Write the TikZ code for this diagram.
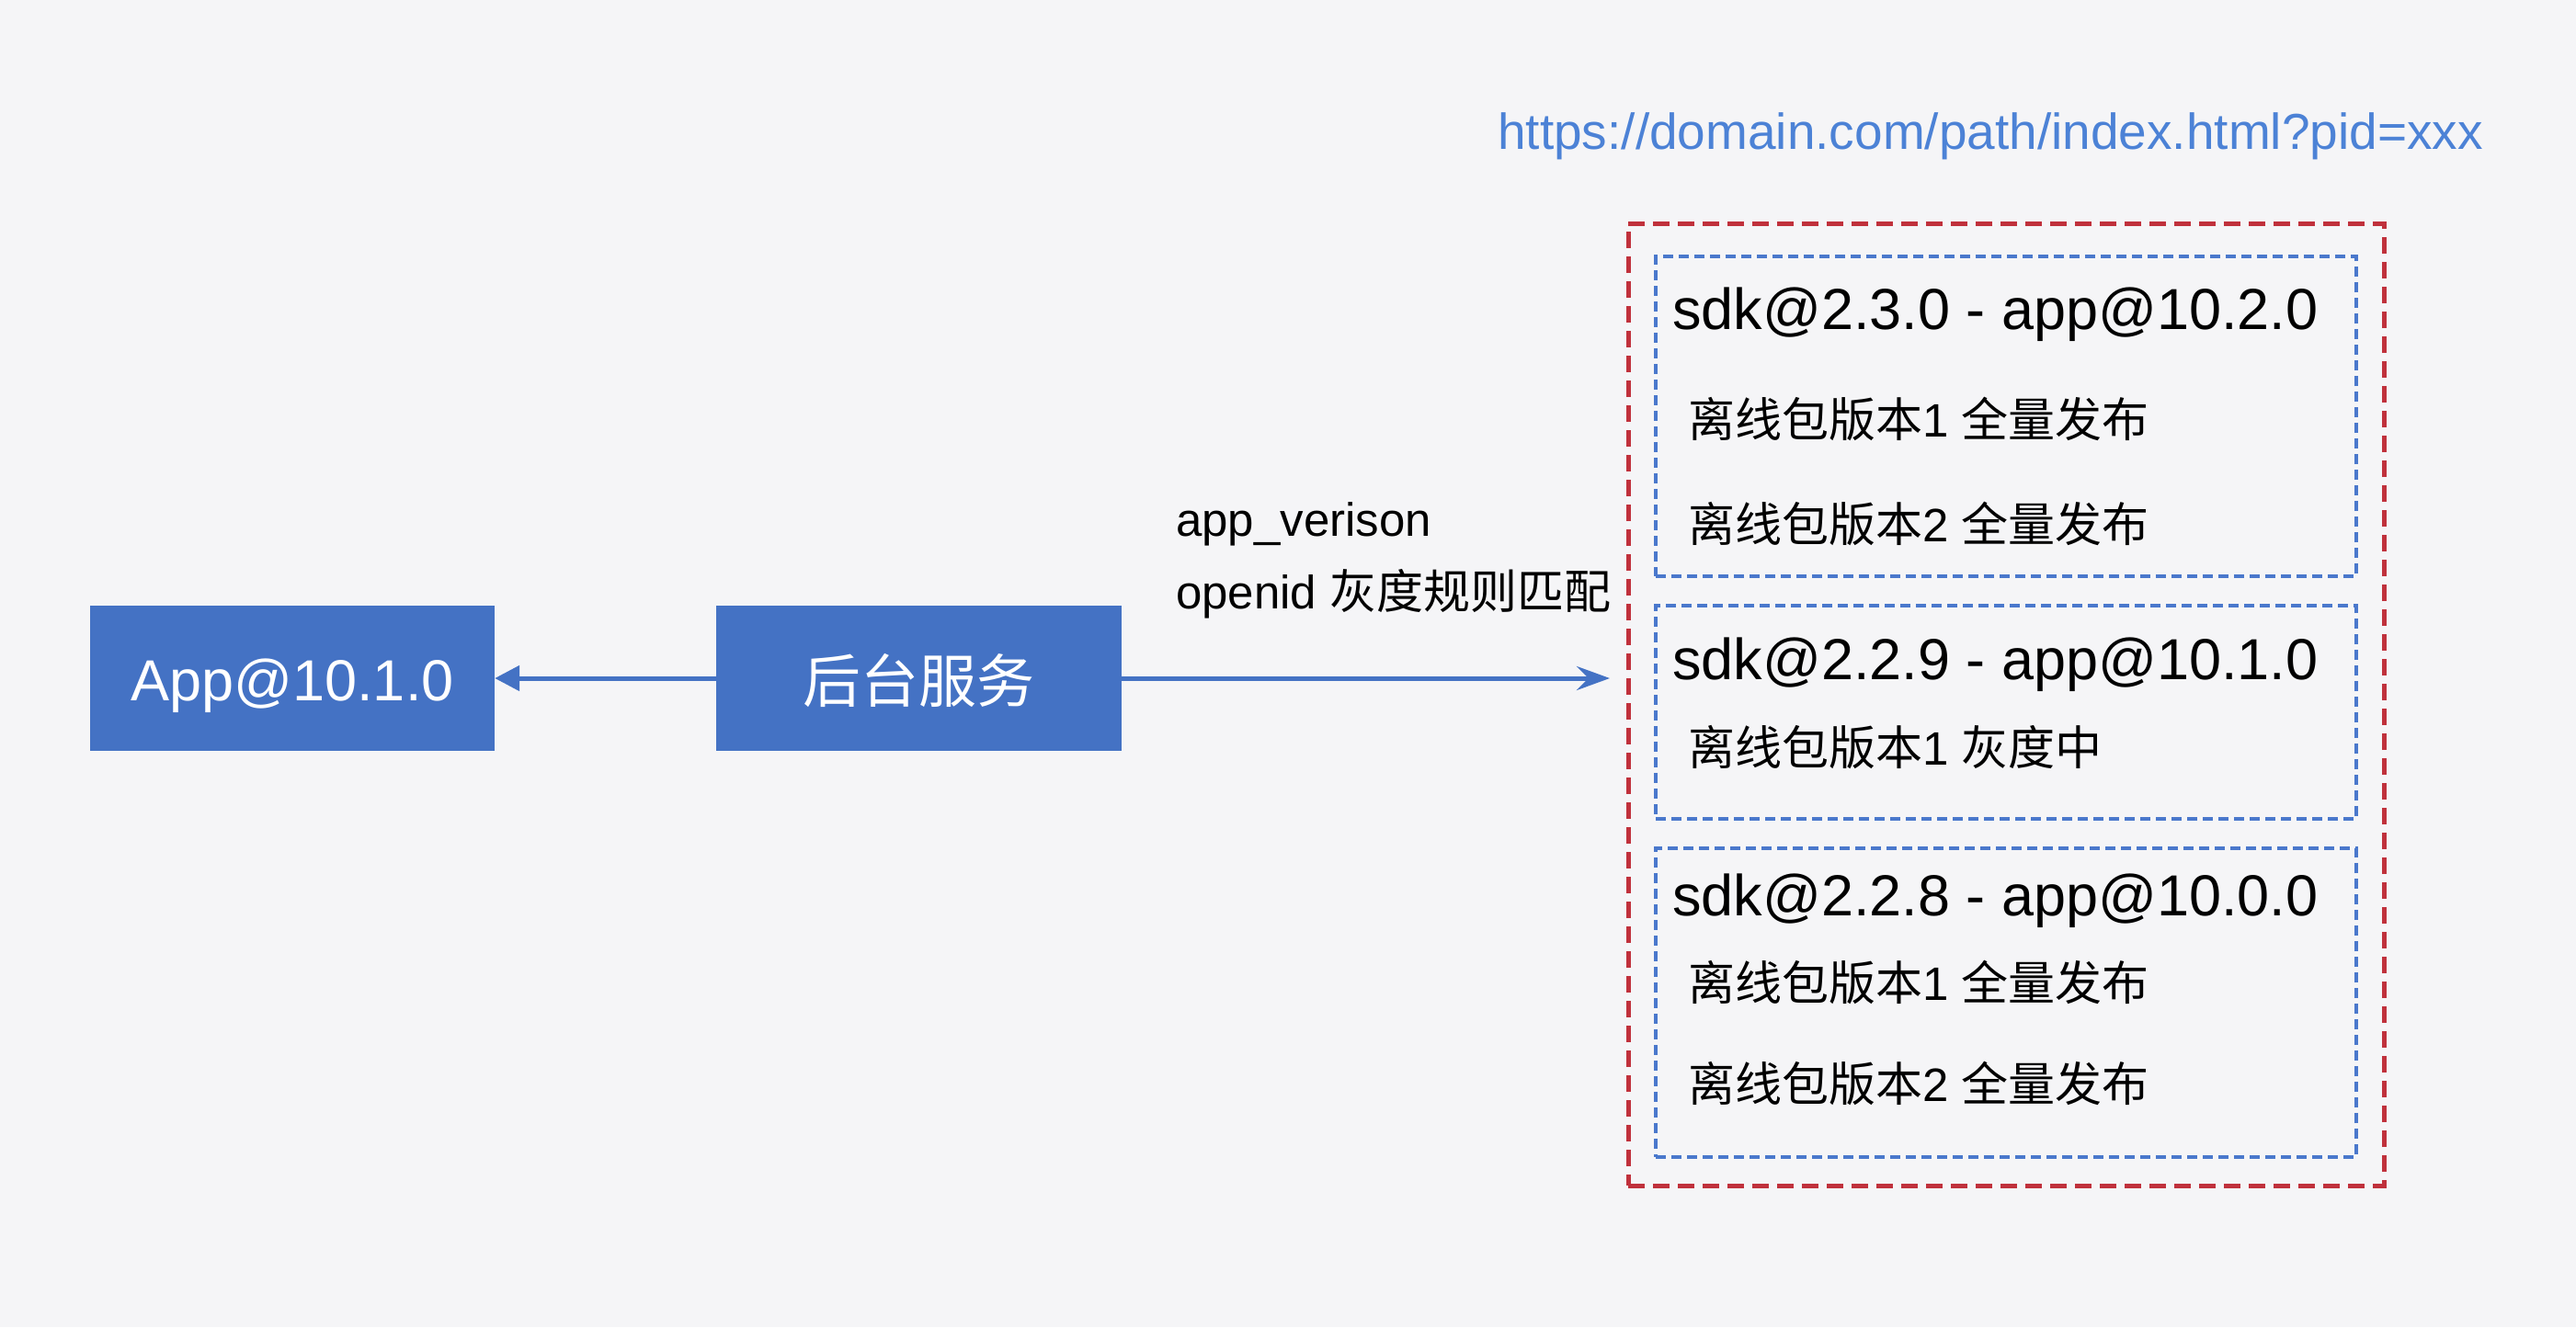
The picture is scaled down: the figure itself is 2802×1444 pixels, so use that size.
\documentclass[tikz,border=0pt]{standalone}
\usepackage{fontspec}
\setmainfont{Liberation Sans}
\newfontfamily\cjk{Noto Sans CJK SC}
\usetikzlibrary{arrows.meta}
\definecolor{bg}{HTML}{F5F5F7}
\definecolor{boxblue}{HTML}{4472C4}
\definecolor{dashred}{HTML}{C0313C}
\definecolor{dashblue}{HTML}{4A78CC}
\definecolor{urlblue}{HTML}{4C82D6}
\begin{document}
\begin{tikzpicture}[x=1pt,y=-1pt,
  solidbox/.style={fill=boxblue, draw=none, minimum height=158, inner sep=0},
  boxtext/.style={text=white, anchor=base, inner sep=0, font=\fontsize{63}{70}\selectfont},
  groupbox/.style={draw=dashred, line width=5, dash pattern=on 18 off 9, inner sep=0},
  verbox/.style={draw=dashblue, line width=3.5, dash pattern=on 11 off 6, inner sep=0, minimum width=762},
  titletext/.style={anchor=base west, inner sep=0, font=\fontsize{63}{70}\selectfont},
  linetext/.style={anchor=base west, inner sep=0, font=\fontsize{51}{60}\selectfont},
  lbl/.style={anchor=base west, inner sep=0, font=\fontsize{51}{60}\selectfont},
  urltext/.style={anchor=base west, inner sep=0, text=urlblue, font=\fontsize{55}{64}\selectfont},
  arrowline/.style={draw=boxblue, line width=5}
]
\fill[bg] (0,0) rectangle (2802,1444);
\useasboundingbox (0,0) rectangle (2802,1444);

% URL
\node[urltext] (url) at (1629,162) {https://domain.com/path/index.html?pid=xxx};

% solid boxes
\node[solidbox, minimum width=440] (app) at (318,738) {};
\node[boxtext] (apptext) at (318,762) {App@10.1.0};
\node[solidbox, minimum width=441] (svc) at (999.5,738) {};
\node[boxtext] (svctext) at (999.5,764) {\cjk 后台服务};

% group and version boxes
\node[groupbox, minimum width=822, minimum height=1047] (group) at (2182,766.5) {};
\node[verbox, minimum height=348] (v1) at (2182,453) {};
\node[verbox, minimum height=232] (v2) at (2182,775) {};
\node[verbox, minimum height=336] (v3) at (2182,1091) {};

% texts in version boxes
\node[titletext] (t1) at (1819,358) {sdk@2.3.0 - app@10.2.0};
\node[linetext] (t1a) at (1836,475) {{\cjk 离线包版本}1 {\cjk 全量发布}};
\node[linetext] (t1b) at (1836,589) {{\cjk 离线包版本}2 {\cjk 全量发布}};
\node[titletext] (t2) at (1819,739) {sdk@2.2.9 - app@10.1.0};
\node[linetext] (t2a) at (1836,832) {{\cjk 离线包版本}1 {\cjk 灰度中}};
\node[titletext] (t3) at (1819,996) {sdk@2.2.8 - app@10.0.0};
\node[linetext] (t3a) at (1836,1088) {{\cjk 离线包版本}1 {\cjk 全量发布}};
\node[linetext] (t3b) at (1836,1198) {{\cjk 离线包版本}2 {\cjk 全量发布}};

% labels
\node[lbl] (l1) at (1279,583) {app\_verison};
\node[lbl] (l2) at (1279,662) {openid {\cjk 灰度规则匹配}};

% connectors
\coordinate (tip) at (1751,738);
\draw[arrowline, -{Stealth[length=36pt, width=26pt, inset=13pt, fill=boxblue]}] (svc.east) -- (tip);
\draw[arrowline, -{Triangle[length=27pt, width=27pt, fill=boxblue]}] (svc.west) -- (app.east);
\end{tikzpicture}
\end{document}
